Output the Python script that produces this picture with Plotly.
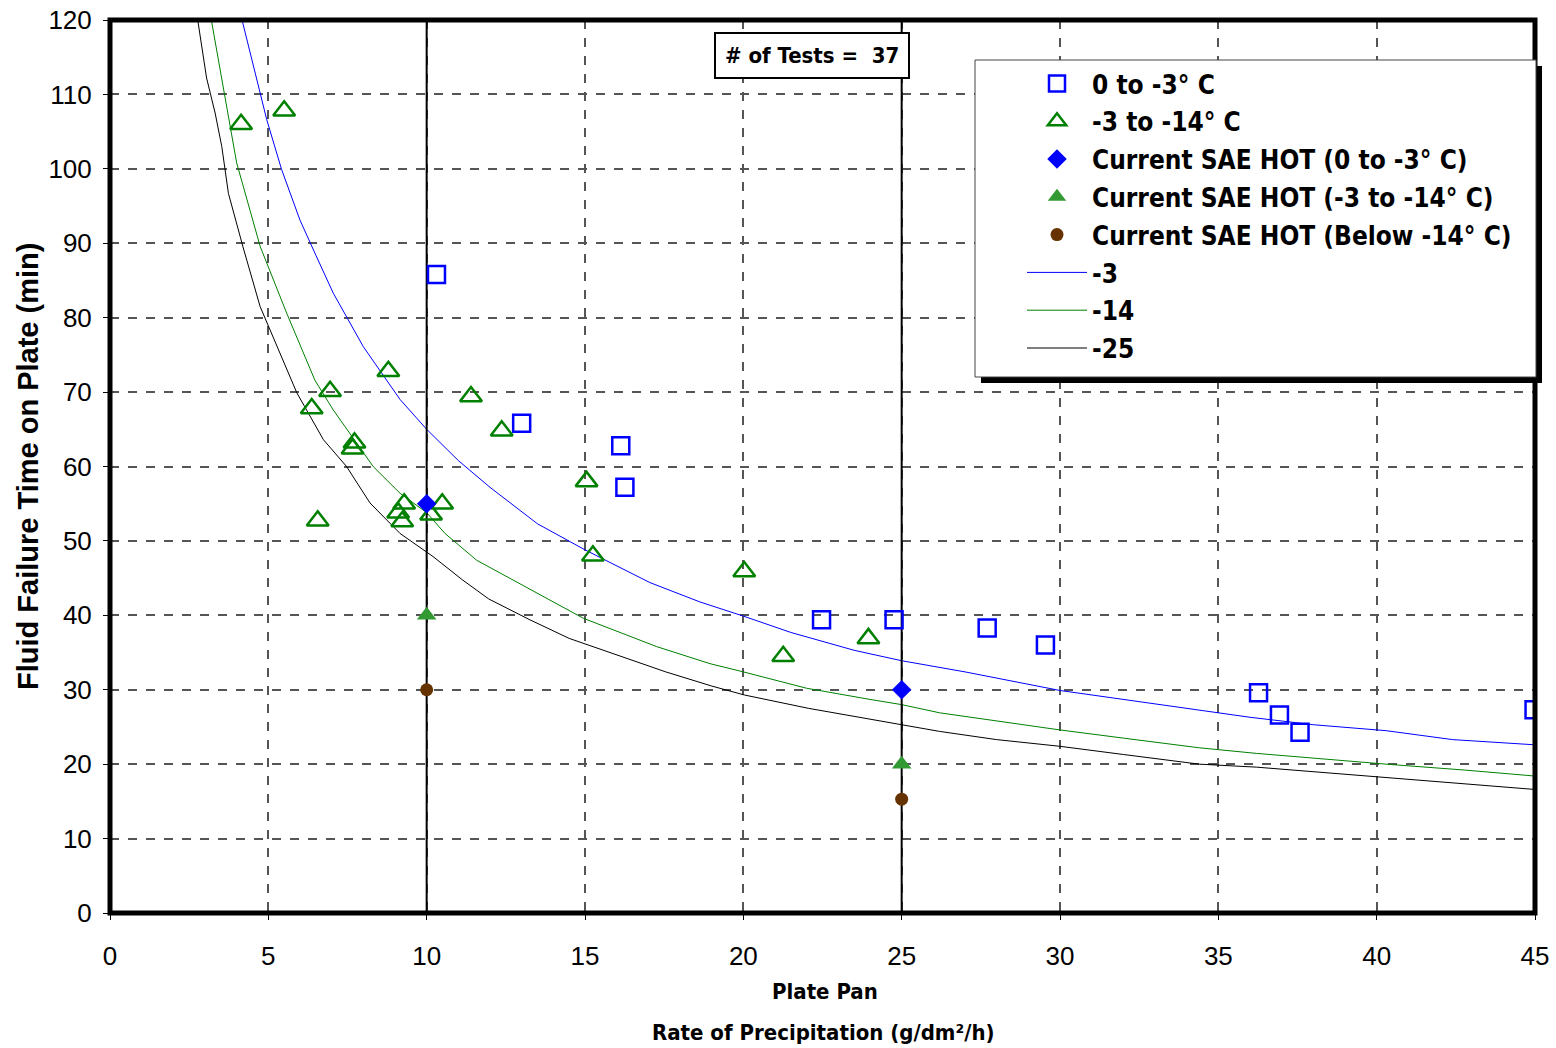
import plotly.graph_objects as go

# ---------------- data ----------------
sq_x = [10.31, 13.0, 16.13, 16.26, 22.47, 24.76, 27.7, 29.54, 36.27, 36.93, 37.58, 44.97]
sq_y = [85.8, 65.8, 62.8, 57.2, 39.4, 39.4, 38.3, 36.0, 29.6, 26.6, 24.3, 27.3]

tri_x = [4.14, 5.5, 6.37, 6.56, 6.95, 7.66, 7.72, 8.79, 9.1, 9.23, 9.29, 10.14, 10.49,
         11.4, 12.37, 15.05, 15.25, 20.03, 21.26, 23.95]
tri_y = [106.0, 107.8, 67.8, 52.7, 70.1, 62.4, 63.2, 72.8, 53.8, 52.6, 55.0, 53.5, 55.0,
         69.4, 64.8, 58.0, 48.0, 45.9, 34.5, 36.9]

sae_x = [10, 25]
sae_hot_0_3 = [55, 30]
sae_hot_3_14 = [40, 20]
sae_hot_below14 = [30, 15.3]

blue_x = [4.17, 4.63, 4.95, 5.42, 6.0, 6.5, 7.05, 8.0, 9.16, 10.0, 11.0, 12.0, 13.5, 15.0, 16.0,
          17.05, 18.63, 20.0, 21.5, 23.5, 25.0, 27.0, 30.0, 32.0, 34.4, 36.0, 38.0, 40.3, 42.4, 45.0]
blue_y = [120, 112, 106.6, 99.9, 93.1, 88.4, 83.3, 76.1, 69.0, 65.0, 60.8, 57.2, 52.3, 48.8, 46.6,
          44.4, 41.8, 39.9, 37.7, 35.3, 33.9, 32.4, 29.9, 28.7, 27.2, 26.3, 25.3, 24.5, 23.3, 22.6]

green_x = [3.2, 3.53, 4.0, 4.74, 5.58, 6.47, 7.05, 8.31, 9.16, 10.0, 10.58, 11.58, 12.7, 14.95,
           17.26, 18.95, 20.0, 22.0, 24.0, 25.0, 26.2, 28.0, 30.0, 32.0, 34.4, 36.2, 38.3, 40.3,
           42.8, 45.0]
green_y = [120, 112, 100.8, 89.6, 80.6, 71.6, 67.6, 60.0, 56.4, 53.8, 51.0, 47.4, 44.8, 39.6,
           35.8, 33.5, 32.4, 30.2, 28.7, 28.0, 26.9, 25.8, 24.6, 23.5, 22.2, 21.45, 20.7, 20.0,
           19.2, 18.4]

black_x = [2.77, 3.05, 3.32, 3.53, 3.74, 4.2, 4.74, 5.3, 5.9, 6.74, 7.47, 8.21, 9.16, 10.2, 11.12,
           11.96, 13.26, 14.5, 15.97, 17.55, 19.0, 20.03, 22.06, 25.0, 26.2, 28.0, 30.0, 32.0,
           34.4, 36.2, 38.3, 40.7, 42.3, 45.0]
black_y = [120, 112.2, 107.5, 103, 96.7, 89.5, 81.5, 75.9, 69.9, 63.6, 60.0, 55.1, 51.0, 47.9,
           44.8, 42.2, 39.4, 36.9, 34.7, 32.4, 30.5, 29.3, 27.5, 25.3, 24.4, 23.3, 22.4, 21.3,
           20.0, 19.6, 18.9, 18.05, 17.6, 16.6]

ref_lines_x = [10, 25]
x_ticks = [0, 5, 10, 15, 20, 25, 30, 35, 40, 45]
y_ticks = [0, 10, 20, 30, 40, 50, 60, 70, 80, 90, 100, 110, 120]
n_tests = 37

# ---------------- figure ----------------
NARROW = "Liberation Sans Narrow, Arial Narrow, DejaVu Sans Condensed, sans-serif"
ARIAL = "Liberation Sans, Arial, sans-serif"

W, H = 1556, 1048
L, R, T, B = 110, 1535, 20, 913


def px(xp):
    return (xp - L) / (R - L)


def py(yp):
    return (B - yp) / (B - T)


fig = go.Figure()

# regression curves
fig.add_trace(go.Scatter(x=blue_x, y=blue_y, mode="lines", name="<b>-3</b>", legendgroup="g6",
                         line=dict(color="#0000ff", width=1), legendrank=6))
fig.add_trace(go.Scatter(x=green_x, y=green_y, mode="lines", name="<b>-14</b>", legendgroup="g7",
                         line=dict(color="#008000", width=1), legendrank=7))
fig.add_trace(go.Scatter(x=black_x, y=black_y, mode="lines", name="<b>-25</b>", legendgroup="g8",
                         line=dict(color="#000000", width=1), legendrank=8))

# reference vertical lines
for xv in ref_lines_x:
    fig.add_trace(go.Scatter(x=[xv, xv], y=[y_ticks[0], y_ticks[-1]], mode="lines",
                             line=dict(color="#000000", width=2), showlegend=False,
                             hoverinfo="skip"))

fig.add_trace(go.Scatter(x=sq_x, y=sq_y, mode="markers", name="<b>0 to -3° C</b>", legendgroup="g1",
                         marker=dict(symbol="square-open", size=17, color="#0000ff",
                                     line=dict(width=2.5, color="#0000ff")), legendrank=1))
fig.add_trace(go.Scatter(x=tri_x, y=tri_y, mode="markers", name="<b>-3 to -14° C</b>", legendgroup="g2",
                         marker=dict(symbol="triangle-up-open", size=19, color="#008000",
                                     line=dict(width=2.5, color="#008000")), legendrank=2))
fig.add_trace(go.Scatter(x=sae_x, y=sae_hot_0_3, mode="markers", legendgroup="g3",
                         name="<b>Current SAE HOT (0 to -3° C)</b>",
                         marker=dict(symbol="diamond", size=15, color="#0000ff"), legendrank=3))
fig.add_trace(go.Scatter(x=sae_x, y=sae_hot_3_14, mode="markers", legendgroup="g4",
                         name="<b>Current SAE HOT (-3 to -14° C)</b>",
                         marker=dict(symbol="triangle-up", size=17, color="#339933"), legendrank=4))
fig.add_trace(go.Scatter(x=sae_x, y=sae_hot_below14, mode="markers", legendgroup="g5",
                         name="<b>Current SAE HOT (Below -14° C)</b>",
                         marker=dict(symbol="circle", size=13, color="#663300"), legendrank=5))

shapes = [
    # plot frame
    dict(type="rect", xref="paper", yref="paper", x0=0, y0=0, x1=1, y1=1,
         line=dict(color="black", width=5), layer="above"),
    # legend shadow
    dict(type="rect", xref="paper", yref="paper", x0=px(981), y0=py(383), x1=px(1542), y1=py(66),
         line=dict(width=0), fillcolor="black", layer="above"),
    # legend box
    dict(type="rect", xref="paper", yref="paper", x0=px(975), y0=py(377), x1=px(1536), y1=py(60),
         line=dict(width=1, color="#444444"), fillcolor="white", layer="above"),
]

annotations = [
    dict(text="<b># of Tests =\u00a0\u00a0" + str(n_tests) + "</b>", xref="paper", yref="paper",
         x=px(812), y=py(56), showarrow=False, xanchor="center", yanchor="middle",
         font=dict(family=NARROW, size=22, color="black"), bgcolor="white",
         bordercolor="black", borderwidth=2, borderpad=9),
    dict(text="<b>Plate Pan</b>", xref="paper", yref="paper", x=px(825), y=py(991),
         showarrow=False, xanchor="center", yanchor="middle",
         font=dict(family=NARROW, size=22, color="black")),
    dict(text="<b>Rate of Precipitation (g/dm²/h)</b>", xref="paper", yref="paper",
         x=px(823), y=py(1032), showarrow=False, xanchor="center", yanchor="middle",
         font=dict(family=NARROW, size=22, color="black")),
    dict(text="<b>Fluid Failure Time on Plate (min)</b>", xref="paper", yref="paper",
         x=px(28), y=py(467), showarrow=False, xanchor="center", yanchor="middle",
         textangle=-90, font=dict(family=ARIAL, size=29, color="black")),
]

fig.update_layout(
    width=W, height=H,
    margin=dict(l=L, r=W - R, t=T, b=H - B, pad=0, autoexpand=False),
    paper_bgcolor="white", plot_bgcolor="white",
    showlegend=True,
    legend=dict(x=px(1022), y=py(60), xanchor="left", yanchor="top",
                bgcolor="rgba(0,0,0,0)", borderwidth=0,
                font=dict(family=NARROW, size=26, color="black"),
                itemwidth=60, traceorder="grouped", tracegroupgap=1),
    shapes=shapes,
    annotations=annotations,
)

fig.update_xaxes(range=[x_ticks[0], x_ticks[-1]], tickvals=x_ticks, ticks="outside", ticklen=6,
                 tickcolor="black", showgrid=True, gridcolor="#555555", griddash="dash",
                 gridwidth=1.5, zeroline=False, showline=False, automargin=False,
                 ticklabelstandoff=14,
                 tickfont=dict(family=ARIAL, size=26, color="black"))
fig.update_yaxes(range=[y_ticks[0], y_ticks[-1]], tickvals=y_ticks, ticks="outside", ticklen=6,
                 tickcolor="black", showgrid=True, gridcolor="#555555", griddash="dash",
                 gridwidth=1.5, zeroline=False, showline=False, automargin=False,
                 ticklabelstandoff=6,
                 tickfont=dict(family=ARIAL, size=26, color="black"))

fig.write_html("out.html")
